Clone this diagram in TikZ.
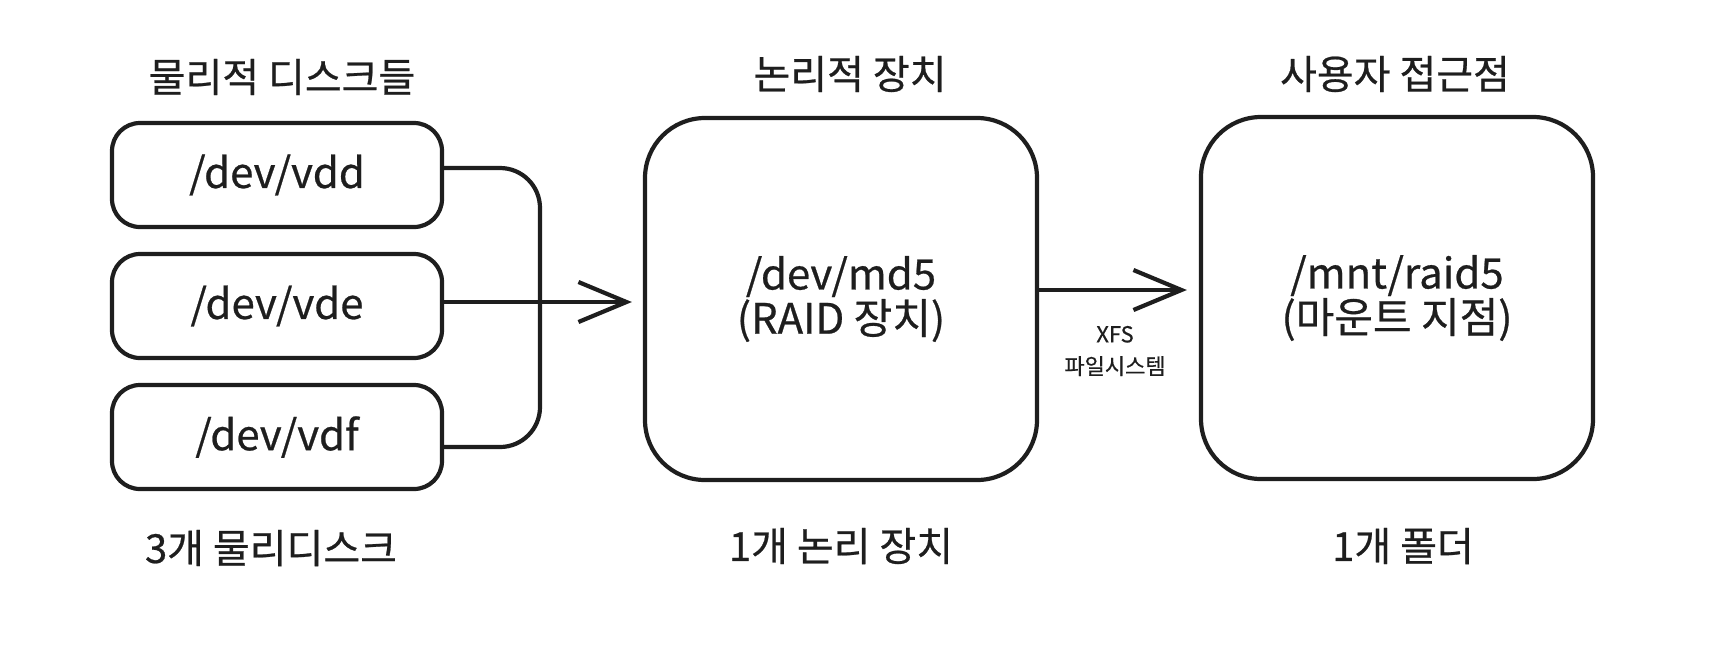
\documentclass[tikz,border=0pt]{standalone}
\usepackage{fontspec}
\setmainfont{Noto Sans CJK KR}[FakeBold=0.6]
\usetikzlibrary{arrows.meta,positioning}
\definecolor{ink}{HTML}{1E1E1E}

\begin{document}
\begin{tikzpicture}[x=0.5pt,y=-0.5pt,
  every node/.style={font=\fontsize{20}{22}\selectfont, text=ink},
  disk/.style={draw=ink, line width=2.1pt, rounded corners=14pt, minimum width=165pt, minimum height=52pt, font=\fontsize{21}{23}\selectfont},
  bigbox/.style={draw=ink, line width=2.1pt, rounded corners=30pt, minimum width=196pt, minimum height=181pt, align=center, font=\fontsize{21}{21}\selectfont},
  link/.style={draw=ink, line width=2.1pt, line cap=round},
  arr/.style={link, -{Straight Barb[length=24pt,width=20pt,line width=2.1pt]}}]
  \useasboundingbox (0,0) rectangle (1712,650);
  % headers and footers
  \node (hdisk) at (282,77) {물리적 디스크들};
  \node (hraid) at (850,74) {논리적 장치};
  \node (hmnt) at (1395,74) {사용자 접근점};
  \node (fdisk) at (271,548) {3개 물리디스크};
  \node (fraid) at (841,546) {1개 논리 장치};
  \node (fmnt) at (1403,546) {1개 폴더};
  % disks
  \foreach \i/\name/\y in {1/vdd/175,2/vde/306,3/vdf/437}{
    \node[disk] (d\i) at (277,\y) {/dev/\name};
  }
  \node[bigbox] (raid) at (841,299) {/dev/md5\\(RAID 장치)};
  \node[bigbox] (mnt) at (1397,298) {/mnt/raid5\\(마운트 지점)};
  % connectors
  \coordinate (bus) at (540,300);
  \draw[link, rounded corners=20pt] ([yshift=3.5pt]d1.east) -- ([yshift=3.5pt]d1.east -| bus) -- ([yshift=-5pt]d3.east -| bus) -- ([yshift=-5pt]d3.east);
  \draw[arr, shorten >=5.5pt] ([yshift=2pt]d2.east) -- ([yshift=2pt]d2.east -| raid.west);
  \draw[arr, shorten >=6pt] ([yshift=4.5pt]raid.east) -- ([yshift=4.5pt]raid.east -| mnt.west);
  \node[font=\fontsize{11}{16}\selectfont, align=center] (fslbl) at (1115,351) {XFS\\파일시스템};
\end{tikzpicture}
\end{document}
